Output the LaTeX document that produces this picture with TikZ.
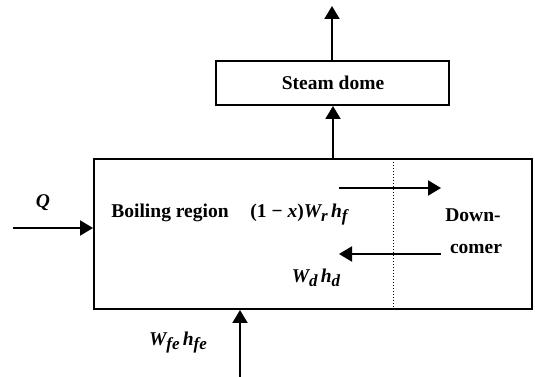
\documentclass[tikz,border=0pt]{standalone}
\usepackage{fontspec}
\setmainfont{Liberation Serif}
\usetikzlibrary{arrows.meta}
\newcommand{\isub}[1]{\raisebox{-0.45ex}{\fontsize{17}{20}\selectfont\itshape #1}}
\begin{document}
\begin{tikzpicture}[x=1pt,y=1pt,
  box/.style={draw,line width=2pt,rectangle,inner sep=0pt},
  flow/.style={line width=2pt,-{Triangle[length=13pt,width=15pt]}},
  lbl/.style={inner sep=0pt,font=\fontsize{19.5}{22}\selectfont\bfseries}]
\useasboundingbox (0,0) rectangle (535,377);
\node[box,minimum width=233pt,minimum height=44pt] (dome) at (332.5,294) {};
\node[lbl] (domet) at (333,294) {Steam dome};
\node[box,minimum width=438pt,minimum height=150pt] (main) at (313,143) {};
\coordinate (top) at (332,371);
\coordinate (mid) at (333,0);
\coordinate (qin) at (13,149);
\coordinate (fin) at (240,0);
\coordinate (d1) at (393,218);
\coordinate (d2) at (393,68);
\coordinate (u1) at (339,189);
\coordinate (u2) at (441,189);
\coordinate (l1) at (441,123);
\coordinate (l2) at (339,123);
\draw[flow] (dome.north -| top) -- (top);
\draw[flow] (main.north -| mid) -- (dome.south -| mid);
\draw[flow] (qin) -- (qin -| main.west);
\draw[flow] (fin) -- (fin |- main.south);
\draw[dotted,line width=1pt] (d1) -- (d2);
\draw[flow] (u1) -- (u2);
\draw[flow] (l1) -- (l2);
\node[lbl] (q) at (43,174) {\itshape Q};
\node[lbl] (boil) at (170,164) {Boiling region};
\node[lbl] (rec) at (299,162) {(1 − {\itshape x}){\itshape W}\isub{r}\,{\itshape h}\isub{f}};
\node[lbl] (down) at (473,162) {Down-};
\node[lbl] (comer) at (476,128) {comer};
\node[lbl] (wd) at (316,99) {{\itshape W}\isub{d}\,{\itshape h}\isub{d}};
\node[lbl] (wfe) at (178,34) {{\itshape W}\isub{fe}\,{\itshape h}\isub{fe}};
\end{tikzpicture}
\end{document}
